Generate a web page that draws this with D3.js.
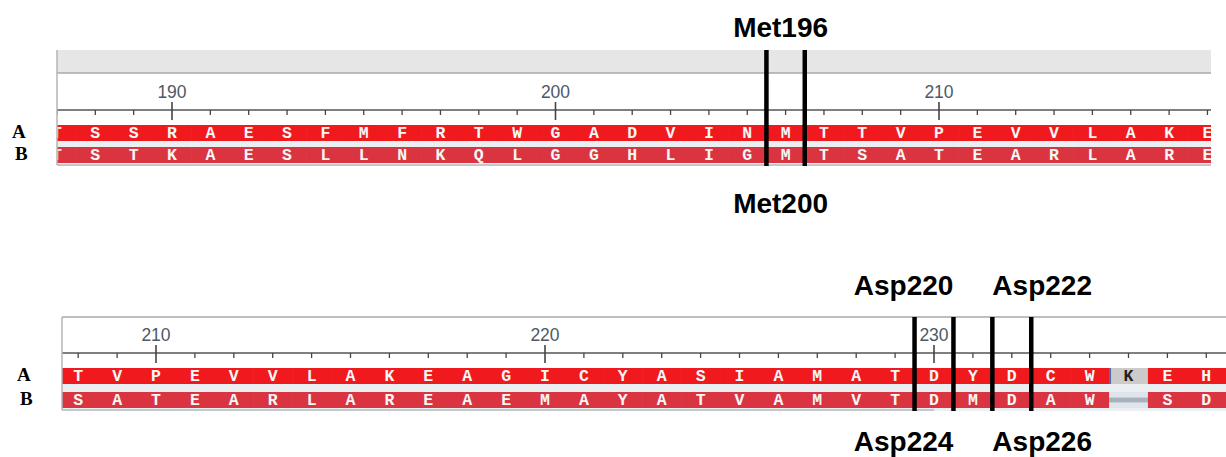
<!DOCTYPE html>
<html>
<head>
<meta charset="utf-8">
<script src="https://cdn.jsdelivr.net/npm/d3@7"></script>
<style>
  body { margin: 0; background: #fff; }
  svg { display: block; }
</style>
</head>
<body>
<div id="viz-container"></div>
<script>
// sequences, one letter per residue, '-' is a gap
const topStart = 187;
const topSeqA = "TSSRAESFMFRTWGADVINMTTVPEVVLAKE".split("");
const topSeqB = "TSTKAESLLNKQLGGHLIGMTSATEARLARE".split("");
const topMarks = [206];
const topLabelsAbove = ["Met196"];
const topLabelsBelow = ["Met200"];

const botStart = 208;
const botSeqA = "TVPEVVLAKEAGICYASIAMATDYDCWKEH".split("");
const botSeqB = "SATEARLAREAEMAYATVAMVTDMDAW-SD".split("");
const botInsert = [235];
const botMarks = [230, 232];
const botLabelsAbove = ["Asp220", "Asp222"];
const botLabelsBelow = ["Asp224", "Asp226"];

const rowNames = ["A", "B"];

const width = 1226, height = 457;

const svg = d3.select('#viz-container')
  .append('svg')
    .attr('width', width)
    .attr('height', height);

const drawPanel = (p) => {
  const x = d3.scaleLinear().domain([p.ref, p.ref + 10]).range(p.refRange);
  const step = x(p.ref + 1) - x(p.ref);
  const n = p.seqA.length;
  const residues = d3.range(p.start, p.start + n);
  const g = svg.append('g');

  const clipId = 'clip' + p.start;
  svg.append('clipPath').attr('id', clipId)
    .append('rect')
      .attr('x', p.left).attr('y', p.top)
      .attr('width', p.right - p.left).attr('height', p.bottom - p.top + 2);

  const body = g.append('g').attr('clip-path', 'url(#' + clipId + ')');

  if (p.header) {
    body.append('rect')
      .attr('x', p.left).attr('y', p.top)
      .attr('width', p.right - p.left).attr('height', p.header)
      .attr('fill', '#e6e6e6');
  }
  g.append('line')
    .attr('x1', p.left).attr('x2', p.right)
    .attr('y1', p.top + (p.header || 0)).attr('y2', p.top + (p.header || 0))
    .attr('stroke', '#a8a8a8').attr('stroke-width', 1.5);
  g.append('line')
    .attr('x1', p.left).attr('x2', p.left)
    .attr('y1', p.top).attr('y2', p.bottom)
    .attr('stroke', '#b4b4b4').attr('stroke-width', 1.5);

  // ruler
  body.append('line')
    .attr('x1', p.left).attr('x2', p.right)
    .attr('y1', p.ruler).attr('y2', p.ruler)
    .attr('stroke', '#555').attr('stroke-width', 1.5);
  body.selectAll('.tick')
    .data(residues)
    .enter().append('line')
      .attr('x1', d => x(d)).attr('x2', d => x(d))
      .attr('y1', d => d % 10 === 0 ? p.ruler - 8 : p.ruler)
      .attr('y2', d => d % 10 === 0 ? p.ruler + 10 : p.ruler + 5)
      .attr('stroke', '#444').attr('stroke-width', d => d % 10 === 0 ? 1.6 : 1.3);
  body.selectAll('.tlabel')
    .data(residues.filter(d => d % 10 === 0))
    .enter().append('text')
      .attr('x', d => x(d)).attr('y', p.ruler - 12)
      .attr('text-anchor', 'middle')
      .attr('font-family', 'Liberation Sans, Arial, sans-serif')
      .attr('font-size', 17.5)
      .attr('fill', '#4e5965')
      .text(d => d);

  // rows
  const rows = [
    { seq: p.seqA, y: p.rowA, fill: '#f0191d' },
    { seq: p.seqB, y: p.rowB, fill: '#d9343f' }
  ];
  body.append('rect')
    .attr('x', p.left).attr('y', p.rowA)
    .attr('width', p.right - p.left).attr('height', p.rowB + p.rowH - p.rowA + 3)
    .attr('fill', '#eceff2');
  rows.forEach((r, ri) => {
    const cells = body.append('g').selectAll('g')
      .data(r.seq.map((c, i) => ({ c, pos: p.start + i })))
      .enter().append('g')
        .attr('transform', d => 'translate(' + (x(d.pos) - step / 2) + ',' + r.y + ')');
    cells.append('rect')
      .attr('width', step + 0.6).attr('height', p.rowH)
      .attr('fill', d => d.c === '-' ? '#dde4eb' : (p.insert.includes(d.pos) ? '#cbcbcb' : r.fill));
    cells.filter(d => d.c === '-').append('rect')
      .attr('y', p.rowH * 0.35).attr('width', step + 0.6).attr('height', p.rowH * 0.3)
      .attr('fill', '#a9b2bb');
    cells.filter(d => d.c !== '-' && p.insert.includes(d.pos)).append('rect')
      .attr('width', 2).attr('height', p.rowH).attr('fill', '#4a6fb0');
    cells.filter(d => d.c !== '-').append('text')
      .attr('x', step / 2).attr('y', p.rowH - 3)
      .attr('text-anchor', 'middle')
      .attr('font-family', 'Liberation Mono, Courier New, monospace')
      .attr('font-weight', 'bold')
      .attr('font-size', 16.5)
      .attr('fill', d => p.insert.includes(d.pos) ? '#222' : '#f6f6f6')
      .text(d => d.c);

    g.append('text')
      .attr('x', p.nameX[ri]).attr('y', r.y + p.rowH - 3)
      .attr('font-family', 'Liberation Serif, Times New Roman, serif')
      .attr('font-weight', 'bold')
      .attr('font-size', 19)
      .attr('fill', '#000')
      .text(rowNames[ri]);
  });
  body.append('line')
    .attr('x1', p.left).attr('x2', p.bottomLineEnd || p.right)
    .attr('y1', p.bottom).attr('y2', p.bottom)
    .attr('stroke', '#c4c8cc').attr('stroke-width', 2);

  // marker lines at residue edges
  const edges = p.marks.flatMap(m => [x(m) - step / 2, x(m) + step / 2]);
  g.selectAll('.mark')
    .data(edges)
    .enter().append('line')
      .attr('x1', d => d).attr('x2', d => d)
      .attr('y1', p.top).attr('y2', p.bottom + 1)
      .attr('stroke', '#000').attr('stroke-width', 4.5);

  const anchorOf = (i) => p.marks.length === 1 ? 'middle' : (i === 0 ? 'end' : 'start');
  const xOf = (m, i) => p.marks.length === 1 ? x(m) - 5 : (i === 0 ? x(m) + step / 2 : x(m) - step / 2);
  [[p.labelsAbove, p.aboveY], [p.labelsBelow, p.belowY]].forEach(([labels, y]) => {
    g.selectAll(null)
      .data(p.marks)
      .enter().append('text')
        .attr('x', (m, i) => xOf(m, i)).attr('y', y)
        .attr('text-anchor', (m, i) => anchorOf(i))
        .attr('font-family', 'Liberation Sans, Arial, sans-serif')
        .attr('font-weight', 'bold')
        .attr('font-size', 28)
        .attr('fill', '#000')
        .text((m, i) => labels[i]);
  });
};

drawPanel({
  start: topStart, seqA: topSeqA, seqB: topSeqB, insert: [],
  ref: 190, refRange: [172, 555.5],
  left: 57, right: 1211, top: 50, header: 23, ruler: 110,
  rowA: 125, rowB: 147, rowH: 16, bottom: 165,
  nameX: [12, 15],
  marks: topMarks, labelsAbove: topLabelsAbove, labelsBelow: topLabelsBelow,
  aboveY: 37, belowY: 213
});

drawPanel({
  start: botStart, seqA: botSeqA, seqB: botSeqB, insert: botInsert,
  ref: 210, refRange: [156, 545],
  left: 62, right: 1226, top: 317, header: 0, ruler: 353,
  rowA: 368, rowB: 392, rowH: 16, bottom: 410, bottomLineEnd: 934,
  nameX: [17, 20],
  marks: botMarks, labelsAbove: botLabelsAbove, labelsBelow: botLabelsBelow,
  aboveY: 295, belowY: 451
});
</script>
</body>
</html>
